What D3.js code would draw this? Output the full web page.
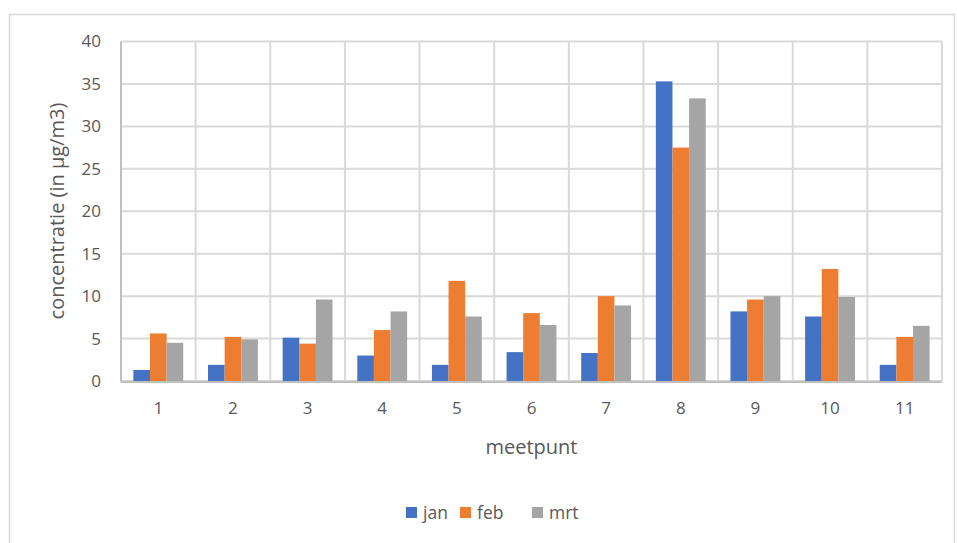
<!DOCTYPE html>
<html><head><meta charset="utf-8">
<script src="https://cdn.jsdelivr.net/npm/d3@7"></script>
<style>body{margin:0;background:#fff;} svg{display:block;font-family:"Open Sans",sans-serif;}</style>
</head><body>
<svg id="c" width="957" height="543"></svg>
<script>
const categories = ["1","2","3","4","5","6","7","8","9","10","11"];
const seriesNames = ["jan","feb","mrt"];
const jan = [1.3,1.9,5.1,3.0,1.9,3.4,3.3,35.3,8.2,7.6,1.9];
const feb = [5.6,5.2,4.4,6.0,11.8,8.0,10.0,27.5,9.6,13.2,5.2];
const mrt = [4.5,4.9,9.6,8.2,7.6,6.6,8.9,33.3,10.0,9.9,6.5];
const yTicks = [0,5,10,15,20,25,30,35,40];
const colors = ["#4472C4","#ED7D31","#A5A5A5"];
const values = [jan,feb,mrt];
const FONT = "'Open Sans',sans-serif";

const svg = d3.select("#c");
svg.append("rect").attr("x",9.5).attr("y",14.5).attr("width",945).attr("height",540)
  .attr("fill","#fff").attr("stroke","#D9D9D9").attr("stroke-width",1.5);

const L=121, R=942, T=41.5, B=381;
const x = d3.scaleBand().domain(categories).range([L,R]).paddingInner(0).paddingOuter(0);
const xs = d3.scaleBand().domain(seriesNames).range([0,x.bandwidth()]).paddingInner(0).paddingOuter(0.745);
const y = d3.scaleLinear().domain([0,40]).range([B,T]);

svg.append("g").selectAll("line").data(yTicks).join("line")
  .attr("x1",L).attr("x2",R).attr("y1",d=>y(d)).attr("y2",d=>y(d))
  .attr("stroke","#D9D9D9").attr("stroke-width",2);
const vb = categories.map(c=>x(c)).concat([R]);
svg.append("g").selectAll("line").data(vb).join("line")
  .attr("x1",d=>d).attr("x2",d=>d).attr("y1",T).attr("y2",B)
  .attr("stroke","#D9D9D9").attr("stroke-width",2);

const g = svg.append("g");
seriesNames.forEach((s,si)=>{
  g.append("g").selectAll("rect").data(values[si]).join("rect")
    .attr("x",(d,i)=>x(categories[i])+xs(s))
    .attr("width",xs.bandwidth())
    .attr("y",d=>y(d)).attr("height",d=>B-y(d))
    .attr("fill",colors[si]);
});

svg.append("line").attr("x1",L).attr("x2",L).attr("y1",T).attr("y2",B+1).attr("stroke","#BFBFBF").attr("stroke-width",2);
svg.append("line").attr("x1",L).attr("x2",R).attr("y1",B+1).attr("y2",B+1).attr("stroke","#BFBFBF").attr("stroke-width",2);

const yAxis = d3.axisLeft(y).tickValues(yTicks).tickSize(0).tickPadding(20);
const ya = svg.append("g").attr("transform",`translate(${L},0)`).call(yAxis);
ya.select(".domain").remove();
ya.selectAll("text").attr("fill","#595959").style("font-size","17px").style("font-family",FONT);

const xAxis = d3.axisBottom(x).tickSize(0).tickPadding(21);
const xa = svg.append("g").attr("transform",`translate(0,${B})`).call(xAxis);
xa.select(".domain").remove();
xa.selectAll("text").attr("fill","#595959").style("font-size","17px").style("font-family",FONT);

svg.append("text").attr("transform","translate(64,211) rotate(-90)").attr("text-anchor","middle")
  .attr("fill","#595959").style("font-size","20px").text("concentratie (in µg/m3)");
svg.append("text").attr("x",(L+R)/2).attr("y",454).attr("text-anchor","middle")
  .attr("fill","#595959").style("font-size","20px").text("meetpunt");

const legX = [406,460,532];
seriesNames.forEach((s,si)=>{
  svg.append("rect").attr("x",legX[si]).attr("y",507).attr("width",11).attr("height",11).attr("fill",colors[si]);
  svg.append("text").attr("x",legX[si]+17).attr("y",519).attr("fill","#595959").style("font-size","17.5px").text(s);
});
</script>
</body></html>
